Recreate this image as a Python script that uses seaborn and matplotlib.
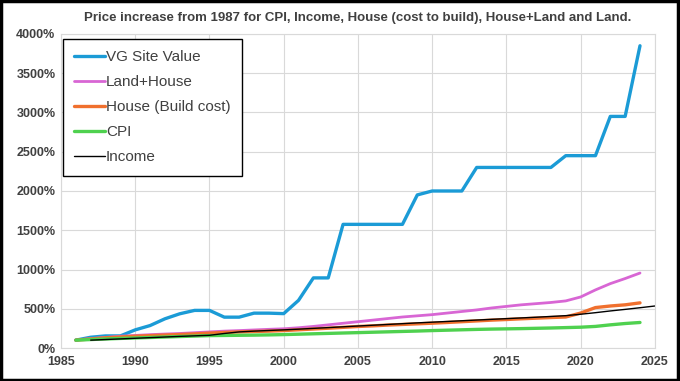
import numpy as np
import pandas as pd
import matplotlib
matplotlib.use("Agg")
import matplotlib.pyplot as plt
import seaborn as sns
from matplotlib.ticker import FuncFormatter

# --- data (percent of 1987 level) ---
years = list(range(1986, 2025))
income_years = list(range(1987, 2026))

vg_site = [100, 137, 154, 154, 231, 286, 372, 436, 479, 479,
           393, 393, 444, 444, 438, 607, 893, 893, 1575, 1575,
           1575, 1575, 1575, 1950, 2000, 2000, 2000, 2300, 2300, 2300,
           2300, 2300, 2300, 2450, 2450, 2450, 2950, 2950, 3850]

land_house = [100, 120, 135, 150, 160, 170, 178, 185, 195, 205,
              215, 222, 230, 238, 245, 258, 275, 295, 315, 335,
              355, 375, 395, 410, 425, 445, 465, 485, 510, 530,
              550, 565, 580, 600, 650, 740, 820, 885, 955]

house_build = [100, 115, 130, 140, 150, 158, 165, 172, 180, 190,
               198, 205, 210, 215, 222, 232, 242, 252, 263, 274,
               282, 292, 300, 308, 316, 325, 335, 345, 355, 363,
               372, 380, 388, 395, 445, 515, 535, 550, 575]

cpi = [100, 108, 115, 122, 128, 134, 140, 146, 152, 158,
       160, 162, 164, 167, 171, 176, 181, 186, 191, 196,
       201, 206, 211, 216, 222, 227, 232, 237, 241, 244,
       247, 251, 255, 260, 265, 275, 295, 312, 325]

income = [100, 108, 116, 124, 132, 140, 148, 155, 162, 185,
          205, 215, 223, 231, 240, 250, 260, 270, 280, 290,
          300, 310, 320, 329, 338, 347, 356, 365, 374, 383,
          392, 402, 412, 430, 450, 472, 492, 513, 535]

series = [
    ("VG Site Value", years, vg_site, "#1b9bd6", 2.4),
    ("Land+House", years, land_house, "#d866d4", 2.0),
    ("House (Build cost)", years, house_build, "#f0702e", 2.4),
    ("CPI", years, cpi, "#4fd14f", 2.4),
    ("Income", income_years, income, "#000000", 1.0),
]

sns.set_theme(style="whitegrid")
plt.rcParams["font.family"] = ["Liberation Sans", "DejaVu Sans"]

fig = plt.figure(figsize=(6.8, 3.81), dpi=100)
ax = fig.add_axes([0.0897, 0.0866, 0.8733, 0.8242])

for name, xs, ys, color, lw in series:
    df = pd.DataFrame({"year": xs, "value": ys})
    sns.lineplot(data=df, x="year", y="value", ax=ax, color=color,
                 linewidth=lw, label=name)

ax.set_xlim(1985, 2025)
ax.set_ylim(0, 4000)
ax.set_xticks(range(1985, 2026, 5))
ax.set_yticks(range(0, 4001, 500))
ax.yaxis.set_major_formatter(FuncFormatter(lambda v, p: f"{int(v)}%"))
ax.set_xlabel("")
ax.set_ylabel("")

ax.grid(True, color="#d9d9d9", linewidth=0.8)
for sp in ax.spines.values():
    sp.set_color("#d9d9d9")
    sp.set_linewidth(0.8)

for lab in ax.get_xticklabels() + ax.get_yticklabels():
    lab.set_fontweight("bold")
    lab.set_fontsize(9)
    lab.set_color("#404040")
ax.tick_params(axis="x", length=0, pad=6)
ax.tick_params(axis="y", length=0, pad=4)

ax.set_title("Price increase from 1987 for CPI, Income, House (cost to build), House+Land and Land.",
             fontweight="bold", fontsize=9.5, color="#404040", pad=9)

leg = ax.legend(loc="upper left", bbox_to_anchor=(0.0, 0.99), fontsize=11,
                frameon=True, fancybox=False, handlelength=2.0, handletextpad=0.1,
                borderpad=0.75, labelspacing=0.72, borderaxespad=0.1)
leg.get_frame().set_edgecolor("#000000")
leg.get_frame().set_linewidth(1.0)
leg.get_frame().set_alpha(1)
for t in leg.get_texts():
    t.set_color("#404040")

# outer border around the whole picture
fig.patches.append(plt.Rectangle((0.002, 0.003), 0.995, 0.994, transform=fig.transFigure,
                                 fill=False, edgecolor="black", linewidth=2.5))

fig.savefig("out.png", dpi=100)
